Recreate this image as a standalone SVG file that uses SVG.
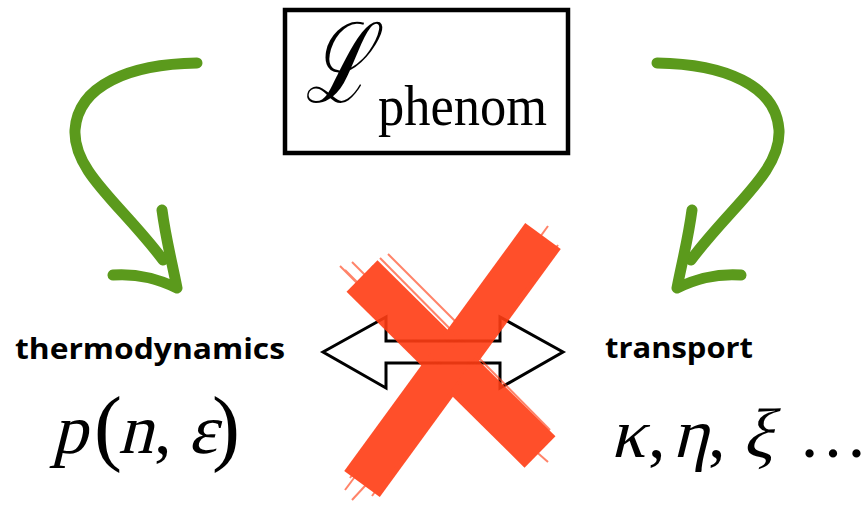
<svg xmlns="http://www.w3.org/2000/svg" width="868" height="516" viewBox="0 0 868 516">
<defs>
<style>
.green{fill:none;stroke:#5b9a1c;stroke-width:11;stroke-linecap:round;stroke-linejoin:round}
.red{stroke:#ff3d14;fill:none}
</style>
</defs>
<rect width="868" height="516" fill="#fff"/>
<g id="lagrangian">
<rect x="285" y="10" width="283" height="143" fill="#fff" stroke="#000" stroke-width="4.5"/>
<text transform="translate(305,102) scale(1.02,1.42)" font-family="DejaVu Serif,serif" font-style="italic" font-size="78">ℒ</text>
<text x="378" y="125" font-family="Liberation Serif,serif" font-size="56" textLength="169" lengthAdjust="spacingAndGlyphs">phenom</text>
</g>
<g id="connectors">
<path class="green" d="M197,63 C130,64 78,85 75,130 C73,172 122,205 163,260"/>
<path class="green" d="M162,210 C166,240 172,262 177,288 M113,275 C140,273 160,280 177,288"/>
<path class="green" d="M657,63 C724,64 776,85 779,130 C781,172 732,205 691,260"/>
<path class="green" d="M692,210 C688,240 682,262 677,288 M741,275 C714,273 694,280 677,288"/>
</g>
<g id="thermodynamics" font-family="Liberation Serif,serif" font-size="70">
<text x="15" y="359" font-family="Open Sans,Liberation Sans,sans-serif" font-weight="bold" font-size="28" textLength="270" lengthAdjust="spacingAndGlyphs">thermodynamics</text>
<text transform="translate(52,453) skewX(-14)">p</text>
<text x="94" y="455" font-size="84">(</text>
<text transform="translate(118,453) skewX(-14)">n</text>
<text x="154" y="453">,</text>
<text transform="translate(188,453) skewX(-14)">ε</text>
<text x="212" y="455" font-size="84">)</text>
</g>
<g id="transport" font-family="Liberation Serif,serif" font-size="70">
<text x="605" y="358" font-family="Open Sans,Liberation Sans,sans-serif" font-weight="bold" font-size="28" textLength="148" lengthAdjust="spacingAndGlyphs">transport</text>
<text transform="translate(610,457) skewX(-14)">κ</text>
<text x="648" y="457">,</text>
<text transform="translate(672,457) skewX(-14)">η</text>
<text x="708" y="457">,</text>
<text transform="translate(742,457) skewX(-14)">ξ</text>
<text x="798" y="457">…</text>
</g>
<g id="double-arrow">
<path d="M323,352 L386,317 L386,341 L500,341 L500,317 L563,352 L500,388 L500,363 L386,363 L386,388 Z" fill="#fff" stroke="#000" stroke-width="3" stroke-linejoin="miter"/>
</g>
<g id="cross" opacity="0.9">
<line class="red" x1="362" y1="276" x2="540" y2="452" stroke-width="44"/>
<line class="red" x1="543" y1="236" x2="362" y2="484" stroke-width="44"/>
<g stroke-width="2" opacity="0.7">
<line class="red" x1="345" y1="270" x2="520" y2="445"/>
<line class="red" x1="352" y1="262" x2="455" y2="365"/>
<line class="red" x1="340" y1="266" x2="400" y2="326"/>
<line class="red" x1="380" y1="258" x2="550" y2="430"/>
<line class="red" x1="372" y1="266" x2="548" y2="440"/>
<line class="red" x1="388" y1="254" x2="470" y2="336"/>
<line class="red" x1="500" y1="420" x2="548" y2="462"/>
<line class="red" x1="530" y1="228" x2="350" y2="478"/>
<line class="red" x1="558" y1="245" x2="380" y2="490"/>
<line class="red" x1="552" y1="250" x2="372" y2="496"/>
<line class="red" x1="535" y1="236" x2="345" y2="490"/>
<line class="red" x1="548" y1="226" x2="500" y2="292"/>
<line class="red" x1="400" y1="448" x2="352" y2="500"/>
</g>
</g>
</svg>
